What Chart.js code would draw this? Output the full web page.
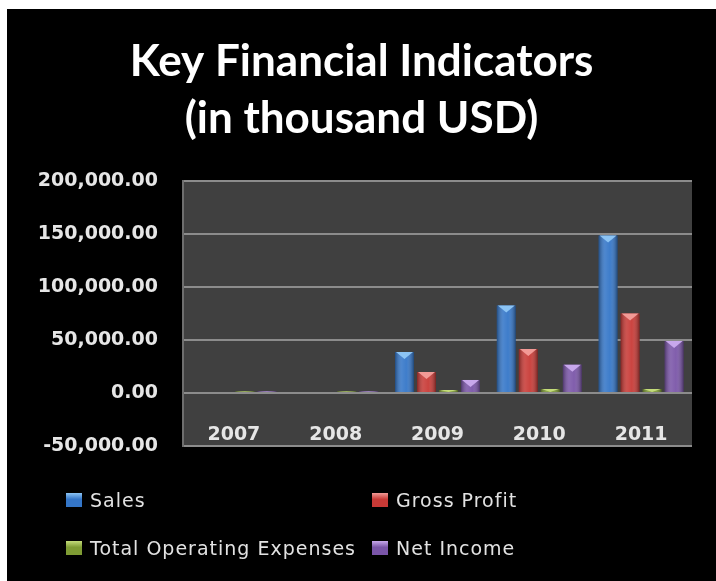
<!DOCTYPE html>
<html>
<head>
  <title>Key Financial Indicators</title>
  <script src="https://cdn.jsdelivr.net/npm/chart.js"></script>
  <style>
    body { margin: 0; background: #fff; }
    #frame { position: absolute; left: 7px; top: 9px; width: 709px; height: 572px; background: #000; }
    #frame canvas { position: absolute; left: 0; top: 0; }
    #legend { position: absolute; left: 59px; top: 467px; width: 640px;
      display: grid; grid-template-columns: 306px 300px; grid-auto-rows: 48px;
      font-family: "DejaVu Sans", sans-serif; font-size: 19px; letter-spacing: 1px; color: #e2e2e2; }
    #legend div { display: flex; align-items: center; }
    #legend span.box { width: 16px; height: 14px; margin-right: 8px; display: inline-block; }
  </style>
</head>
<body>
  <div id="frame">
    <canvas id="myChart" width="709" height="572"></canvas>
    <div id="legend"></div>
  </div>
  <script>
    // values in thousand USD
    const years = ['2007', '2008', '2009', '2010', '2011'];
    const sales = [0, 0, 38700, 82500, 148700];
    const grossProfit = [0, 0, 19800, 41500, 74900];
    const totalOpEx = [1500, 1500, 2800, 3700, 3700];
    const netIncome = [1500, 1500, 12300, 26700, 49000];

    // body colour, light top colour
    const palette = {
      'Sales': ['#3476c8', '#8cc4f4'],
      'Gross Profit': ['#c83a36', '#f29a96'],
      'Total Operating Expenses': ['#7f9c34', '#c4dc7a'],
      'Net Income': ['#7a55a8', '#c8a8ec']
    };

    function ds(label, data) {
      return {
        label: label,
        data: data,
        backgroundColor: palette[label][0],
        borderWidth: 0,
        barPercentage: 0.86,
        categoryPercentage: 0.865
      };
    }

    // gray plot area
    const plotBg = {
      id: 'plotBg',
      beforeDraw(chart) {
        const a = chart.chartArea;
        const c = chart.ctx;
        c.save();
        c.fillStyle = '#404040';
        c.fillRect(a.left, a.top, a.right - a.left, a.bottom - a.top);
        c.restore();
      }
    };

    // shading + bevelled top on every bar
    const bevel = {
      id: 'bevel',
      afterDatasetsDraw(chart) {
        const c = chart.ctx;
        chart.data.datasets.forEach((d, i) => {
          const meta = chart.getDatasetMeta(i);
          meta.data.forEach(bar => {
            const h = bar.base - bar.y;
            if (h <= 0) return;
            const l = bar.x - bar.width / 2, r = bar.x + bar.width / 2;
            const g = c.createLinearGradient(l, 0, r, 0);
            g.addColorStop(0, 'rgba(0,0,0,0.35)');
            g.addColorStop(0.35, 'rgba(255,255,255,0.12)');
            g.addColorStop(0.6, 'rgba(255,255,255,0.05)');
            g.addColorStop(1, 'rgba(0,0,0,0.4)');
            c.save();
            c.fillStyle = g;
            c.fillRect(l, bar.y, bar.width, h);
            const t = Math.min(7, h);
            c.fillStyle = palette[d.label][1];
            c.beginPath();
            c.moveTo(l + 1, bar.y);
            c.lineTo(r - 1, bar.y);
            c.lineTo(bar.x, bar.y + t);
            c.closePath();
            c.fill();
            c.restore();
          });
        });
      }
    };

    const myChart = new Chart(document.getElementById('myChart'), {
      type: 'bar',
      data: {
        labels: years,
        datasets: [
          ds('Sales', sales),
          ds('Gross Profit', grossProfit),
          ds('Total Operating Expenses', totalOpEx),
          ds('Net Income', netIncome)
        ]
      },
      plugins: [plotBg, bevel],
      options: {
        responsive: false,
        animation: false,
        layout: { padding: { left: 24, right: 24, top: 0, bottom: 135 } },
        plugins: {
          legend: { display: false },
          tooltip: { enabled: false },
          title: {
            display: true,
            text: ['Key Financial Indicators', '(in thousand USD)'],
            color: '#ffffff',
            font: { family: 'Lato', size: 44, weight: 'bold', lineHeight: '57px' },
            padding: { top: 24, bottom: 34 }
          }
        },
        scales: {
          x: {
            grid: { display: false, drawTicks: false },
            border: { display: false },
            ticks: {
              mirror: true, // years sit inside the plot, above its bottom edge
              color: '#e6e6e6',
              padding: 0,
              font: { family: 'DejaVu Sans', size: 19, weight: 'bold' }
            },
            afterFit(scale) { scale.height = 0; }
          },
          y: {
            min: -50000,
            max: 200000,
            grid: { color: '#8c8c8c', lineWidth: 2, drawTicks: false },
            border: { display: true, color: '#6e6e6e', width: 2 },
            ticks: {
              stepSize: 50000,
              color: '#e6e6e6',
              padding: 25,
              font: { family: 'DejaVu Sans', size: 19, weight: 'bold' },
              callback: v => v.toLocaleString('en-US', { minimumFractionDigits: 2, maximumFractionDigits: 2 })
            },
            afterFit(scale) { scale.width = 152; }
          }
        }
      }
    });

    // two-column legend below the plot
    const legend = document.getElementById('legend');
    myChart.data.datasets.forEach(d => {
      const item = document.createElement('div');
      const box = document.createElement('span');
      box.className = 'box';
      box.style.background = 'linear-gradient(180deg, ' + palette[d.label][1] + ' 0%, ' + palette[d.label][0] + ' 45%, ' + palette[d.label][0] + ' 100%)';
      item.appendChild(box);
      item.appendChild(document.createTextNode(d.label));
      legend.appendChild(item);
    });
  </script>
</body>
</html>
